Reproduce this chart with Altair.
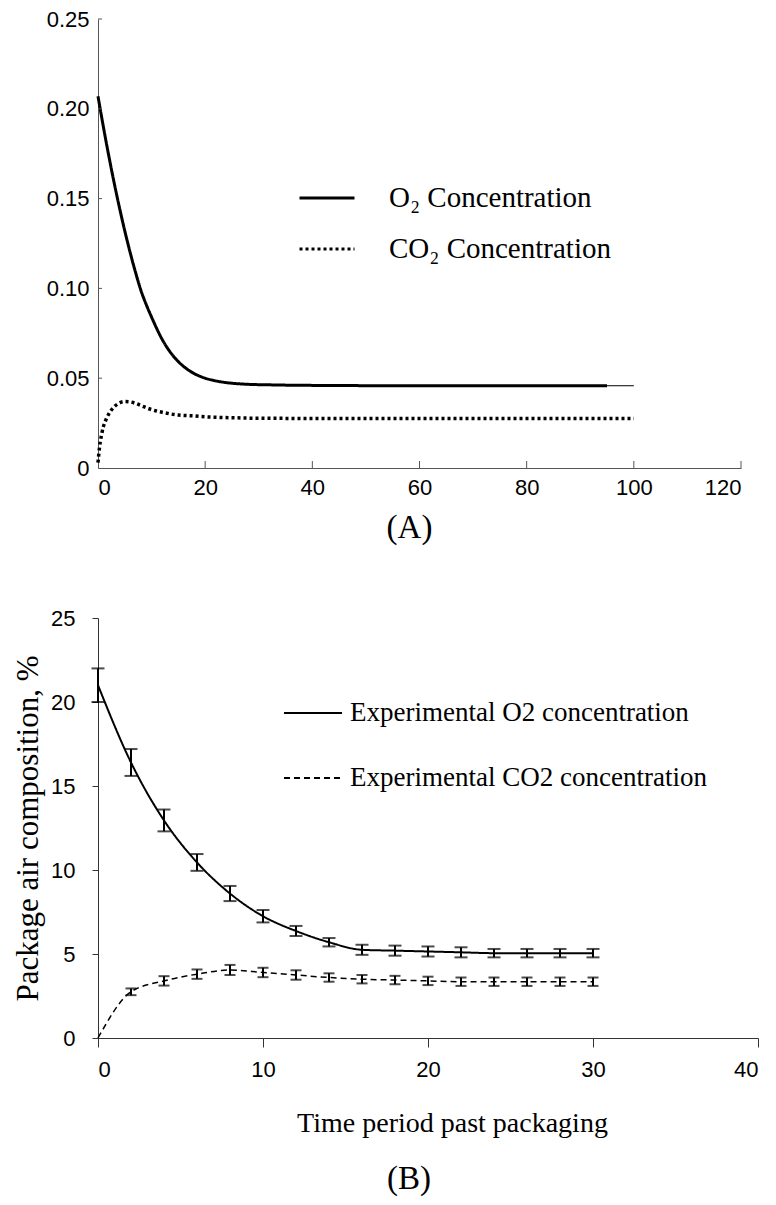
import altair as alt
import pandas as pd

# ---------------- Panel A data ----------------
a_o2_t = [0, 1, 2, 3, 4, 5, 6, 7, 8, 9, 10, 12, 14, 16, 18, 20, 22, 25, 28, 32, 40, 60, 80, 95]
a_o2_v = [0.207, 0.190, 0.174, 0.159, 0.145, 0.132, 0.120, 0.109, 0.099, 0.091, 0.084,
          0.0715, 0.0625, 0.0565, 0.0525, 0.050, 0.0485, 0.0472, 0.0466, 0.0463, 0.046,
          0.0458, 0.0458, 0.0458]
a_o2_tail_t = [95, 100]
a_o2_tail_v = [0.0458, 0.0458]
a_co2_t = [0, 0.3, 0.7, 1, 1.5, 2, 3, 4, 5, 6, 7, 8, 10, 12, 15, 18, 20, 25, 30, 40, 60, 100]
a_co2_v = [0.003, 0.012, 0.019, 0.023, 0.027, 0.030, 0.034, 0.0362, 0.037, 0.0368, 0.036,
           0.0348, 0.0325, 0.031, 0.0295, 0.029, 0.0285, 0.028, 0.0277, 0.0276, 0.0276, 0.0276]
a_series = ["O₂ Concentration", "CO₂ Concentration"]
a_x_labels = [0, 20, 40, 60, 80, 100, 120]
a_y_labels = [0, 0.05, 0.10, 0.15, 0.20, 0.25]
a_x_ticks = [20, 40, 60, 80, 100, 120]
a_y_ticks = [0.05, 0.10, 0.15, 0.20, 0.25]

# ---------------- Panel B data ----------------
b_t = [0, 2, 4, 6, 8, 10, 12, 14, 16, 18, 20, 22, 24, 26, 28, 30]
b_o2 = [21.0, 16.4, 12.95, 10.45, 8.6, 7.25, 6.37, 5.7, 5.25, 5.2, 5.15, 5.1, 5.05, 5.05, 5.05, 5.05]
b_o2_err = [1.0, 0.8, 0.65, 0.5, 0.45, 0.37, 0.3, 0.25, 0.3, 0.3, 0.3, 0.3, 0.25, 0.25, 0.25, 0.25]
b_co2 = [0.0, 2.75, 3.4, 3.8, 4.05, 3.9, 3.75, 3.6, 3.5, 3.45, 3.4, 3.35, 3.35, 3.35, 3.35, 3.35]
b_co2_err = [0, 0.2, 0.28, 0.28, 0.3, 0.28, 0.28, 0.25, 0.25, 0.25, 0.25, 0.25, 0.25, 0.25, 0.25, 0.25]
b_series = ["Experimental O2 concentration", "Experimental CO2 concentration"]
b_x_labels = [0, 10, 20, 30, 40]
b_y_labels = [0, 5, 10, 15, 20, 25]

SERIF = "Liberation Serif"
SANS = "Liberation Sans"

# ================= Panel A =================
WA, HA = 643, 449
xA = alt.Scale(domain=[0, 120], nice=False, zero=False)
yA = alt.Scale(domain=[0, 0.25], nice=False, zero=False)

axA_x = alt.Axis(values=a_x_labels, ticks=False, labelPadding=9, title=None, grid=False,
                 domainColor="#555", labelFontSize=22, labelFont=SANS, labelColor="black")
axA_y = alt.Axis(values=a_y_labels, ticks=False, labelPadding=9, title=None, grid=False,
                 domainColor="#555", labelFontSize=22, labelFont=SANS, labelColor="black",
                 labelExpr="datum.value == 0 ? '0' : format(datum.value, '.2f')")

dashA = alt.StrokeDash(
    "s:N",
    scale=alt.Scale(domain=a_series, range=[[1, 0], [3, 3]]),
    legend=alt.Legend(
        orient="none", legendX=200, legendY=150, title=None,
        symbolType="stroke", symbolSize=3025, symbolStrokeWidth=3,
        symbolStrokeColor="black", labelFont=SERIF, labelFontSize=29,
        labelColor="black", labelOffset=33, rowPadding=7, labelLimit=500,
    ),
)

dfA_o2 = pd.DataFrame({"t": a_o2_t, "v": a_o2_v, "s": a_series[0]})
dfA_co2 = pd.DataFrame({"t": a_co2_t, "v": a_co2_v, "s": a_series[1]})

XA = alt.X("t:Q", scale=xA, axis=axA_x)
YA = alt.Y("v:Q", scale=yA, axis=axA_y)

o2A = alt.Chart(dfA_o2).mark_line(color="black", strokeWidth=3, interpolate="monotone").encode(
    x=XA, y=YA, strokeDash=dashA,
)
co2A = alt.Chart(dfA_co2).mark_line(color="black", strokeWidth=3.5, interpolate="monotone").encode(
    x=XA, y=YA, strokeDash=dashA,
)
tailA = alt.Chart(pd.DataFrame({"t": a_o2_tail_t, "v": a_o2_tail_v})).mark_line(
    color="black", strokeWidth=1).encode(x=XA, y=YA)
xticksA = alt.Chart(pd.DataFrame({"t": a_x_ticks})).mark_rule(color="#555", strokeWidth=1).encode(
    x=XA, y=alt.value(HA), y2=alt.value(HA - 7),
)
yticksA = alt.Chart(pd.DataFrame({"v": a_y_ticks})).mark_rule(color="#555", strokeWidth=1).encode(
    y=YA, x=alt.value(0), x2=alt.value(4),
)

panelA = alt.layer(o2A, co2A, tailA, xticksA, yticksA).properties(
    width=WA, height=HA,
    title=alt.TitleParams("(A)", orient="bottom", font=SERIF, fontSize=33,
                          fontWeight="normal", color="black", offset=14,
                          frame="group", anchor="middle", dx=-10),
)

# ================= Panel B =================
WB, HB = 660, 420
xB = alt.Scale(domain=[0, 40], nice=False, zero=False)
yB = alt.Scale(domain=[0, 25], nice=False, zero=False)

axB_x = alt.Axis(values=b_x_labels, tickSize=9, labelPadding=12, grid=False,
                 domainColor="#333", tickColor="#333", labelFontSize=22, labelFont=SANS,
                 labelColor="black",
                 title="Time period past packaging", titleFont=SERIF, titleFontSize=28,
                 titleFontWeight="normal", titleColor="black", titlePadding=29, titleX=354)
axB_y = alt.Axis(values=b_y_labels, tickSize=6, labelPadding=17, grid=False,
                 domainColor="#333", tickColor="#333", labelFontSize=22, labelFont=SANS,
                 labelColor="black",
                 title="Package air composition, %", titleFont=SERIF, titleFontSize=31,
                 titleFontWeight="normal", titleColor="black", titlePadding=6)

dashB = alt.StrokeDash(
    "s:N",
    scale=alt.Scale(domain=b_series, range=[[1, 0], [6, 4]]),
    legend=alt.Legend(
        orient="none", legendX=185, legendY=65, title=None,
        symbolType="stroke", symbolSize=3364, symbolStrokeWidth=2,
        symbolStrokeColor="black", labelFont=SERIF, labelFontSize=27,
        labelColor="black", labelOffset=7, rowPadding=22, labelLimit=500,
    ),
)

dfB_o2 = pd.DataFrame({"t": b_t, "v": b_o2, "e": b_o2_err, "s": b_series[0]})
dfB_co2 = pd.DataFrame({"t": b_t, "v": b_co2, "e": b_co2_err, "s": b_series[1]})
for d in (dfB_o2, dfB_co2):
    d["lo"] = d["v"] - d["e"]
    d["hi"] = d["v"] + d["e"]

XB = alt.X("t:Q", scale=xB, axis=axB_x)
YB = alt.Y("v:Q", scale=yB, axis=axB_y)
YBlo = alt.Y("lo:Q", scale=yB, axis=axB_y)

o2B = alt.Chart(dfB_o2).mark_line(color="black", strokeWidth=2, interpolate="monotone").encode(
    x=XB, y=YB, strokeDash=dashB,
)
co2B = alt.Chart(dfB_co2).mark_line(color="black", strokeWidth=1.5, interpolate="monotone").encode(
    x=XB, y=YB, strokeDash=dashB,
)
errO2 = alt.Chart(dfB_o2).mark_errorbar(ticks=True, size=13, thickness=2, color="black").encode(
    x=XB, y=YBlo, y2="hi:Q",
)
errCO2 = alt.Chart(dfB_co2[dfB_co2["e"] > 0]).mark_errorbar(ticks=True, size=11, thickness=2,
                                                           color="black").encode(
    x=XB, y=YBlo, y2="hi:Q",
)

panelB = alt.layer(o2B, co2B, errO2, errCO2).properties(
    width=WB, height=HB,
    title=alt.TitleParams("(B)", orient="bottom", font=SERIF, fontSize=33,
                          fontWeight="normal", color="black", offset=26,
                          frame="group", anchor="middle", dx=-19),
)

chart = alt.vconcat(panelA, panelB, spacing=62).resolve_scale(
    x="independent", y="independent", strokeDash="independent"
).resolve_legend(strokeDash="independent").properties(
    padding={"left": 4, "top": 0, "right": 5, "bottom": 0}
).configure_view(stroke=None).configure_axis(domainWidth=1)

chart.save("out.html", embed_options={"renderer": "svg", "actions": False})
